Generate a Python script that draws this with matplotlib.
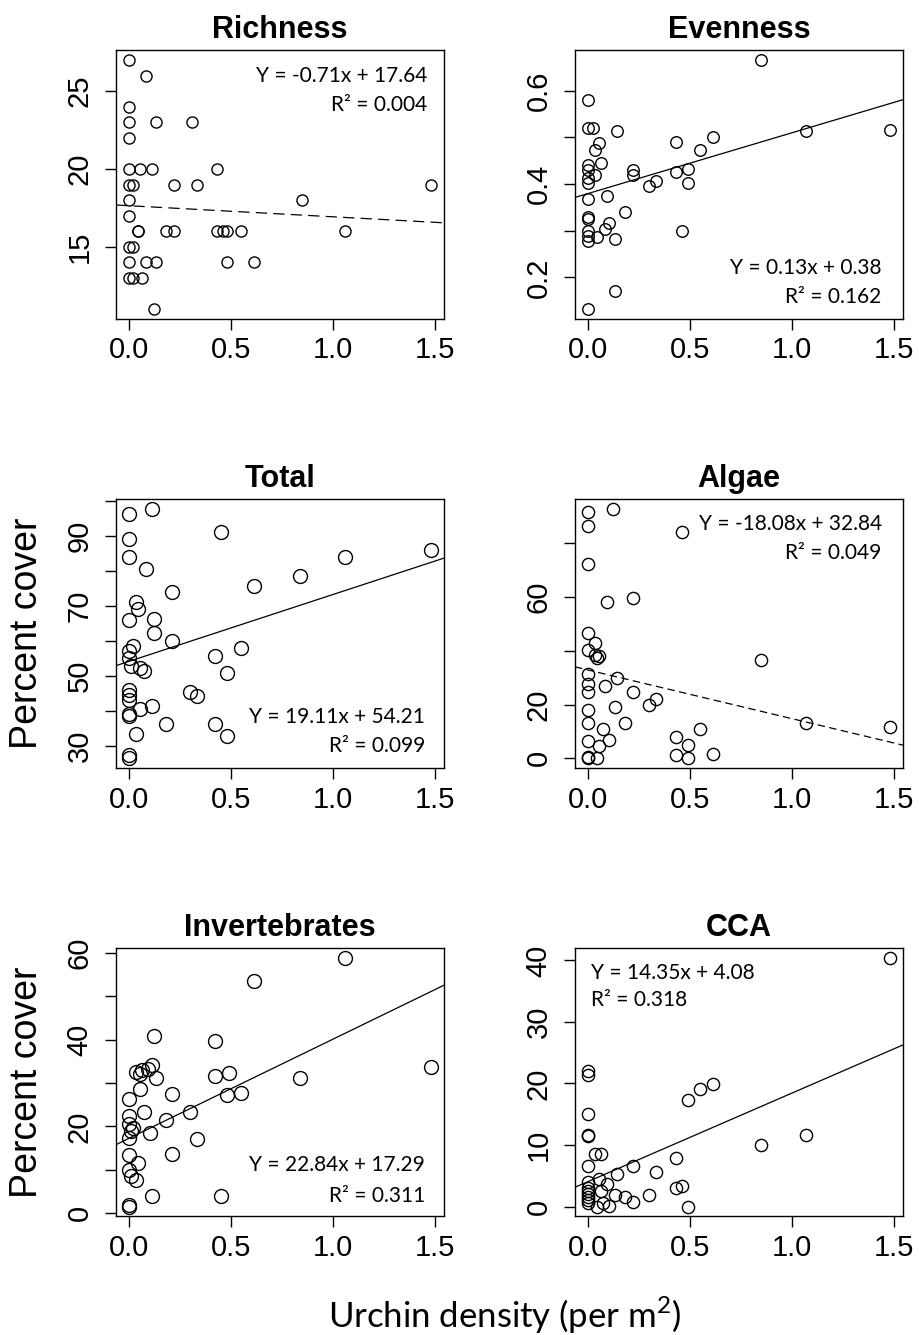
import matplotlib
matplotlib.use("Agg")
import matplotlib.pyplot as plt

# urchin density (per m2) against each response, one pair of lists per panel
rich_x = [0, 0.08, 0, 0, 0.13, 0.31, 0, 0, 0.05, 0.11, 0.43, 0, 0.02, 0.22, 0.33,
          1.48, 0, 0.85, 0, 0.04, 0.04, 0.18, 0.22, 0.43, 0.46, 0.48, 0.55, 1.06,
          0, 0.02, 0, 0.08, 0.13, 0.48, 0.61, 0, 0.02, 0.06, 0.12]
rich_y = [27, 26, 24, 23, 23, 23, 22, 20, 20, 20, 20, 19, 19, 19, 19,
          19, 18, 18, 17, 16, 16, 16, 16, 16, 16, 16, 16, 16,
          15, 15, 14, 14, 14, 14, 14, 13, 13, 13, 11]

even_x = [0.85, 0, 0, 0.02, 0.14, 0.05, 0.03, 0.43, 0.55, 0.61, 1.07, 1.48, 0, 0,
          0, 0, 0.06, 0.03, 0.22, 0.22, 0.30, 0.33, 0.43, 0.49, 0.49, 0.09, 0,
          0.18, 0, 0, 0.10, 0.08, 0, 0, 0.04, 0.13, 0.46, 0, 0.13, 0]
even_y = [0.666, 0.58, 0.52, 0.52, 0.513, 0.488, 0.473, 0.491, 0.474, 0.50, 0.513,
          0.517, 0.44, 0.43, 0.414, 0.403, 0.445, 0.42, 0.43, 0.42, 0.395, 0.407,
          0.425, 0.432, 0.402, 0.375, 0.368, 0.341, 0.33, 0.325, 0.317, 0.304,
          0.30, 0.289, 0.286, 0.283, 0.30, 0.279, 0.17, 0.132]

total_x = [0.11, 0, 0.45, 0, 0, 0.08, 1.06, 1.48, 0.84, 0.61, 0.21, 0.03, 0.04, 0,
           0.12, 0.12, 0.21, 0.02, 0, 0.55, 0.42, 0, 0.01, 0.05, 0.07, 0.48, 0,
           0.30, 0.33, 0, 0.11, 0.05, 0, 0.18, 0.42, 0.03, 0.48, 0, 0, 0, 0]
total_y = [97.9, 96.3, 91.2, 89.1, 84, 80.7, 84, 86.2, 78.5, 75.7, 74.1, 71.1, 69.2,
           66, 66.3, 62.4, 60, 58.6, 57.2, 58.1, 55.7, 55.2, 52.8, 52.4, 51.4, 50.7,
           46.1, 45.5, 44.2, 43.2, 41.3, 40.4, 38.4, 36.3, 36.3, 33.5, 32.7, 27.4,
           26.4, 44.5, 39]

algae_x = [0.12, 0, 0, 0.46, 0, 0.09, 0.22, 0, 0.03, 0, 0.03, 0.04, 0.05, 0.85, 0,
           0.14, 0, 0.08, 0, 0.22, 0.30, 0.33, 0, 0.13, 0, 0.18, 0.07, 0.55, 1.07,
           1.48, 0.43, 0.10, 0, 0.49, 0.05, 0.43, 0.49, 0.61, 0, 0, 0.04]
algae_y = [92.9, 91.5, 86.3, 84.1, 72.5, 58.1, 59.6, 46.5, 42.8, 40.3, 38.5, 37.5,
           38, 36.5, 31.3, 29.8, 27.5, 26.8, 24.8, 24.8, 19.8, 21.9, 17.8, 19, 13.1,
           13.1, 11, 11, 13.1, 11.6, 8.1, 6.9, 6.3, 5, 4.4, 1.3, 0.3, 1.5, 0.6, 0, 0.3]

inv_x = [1.06, 0.61, 0.12, 0.42, 1.48, 0.11, 0.09, 0.03, 0.05, 0.06, 0.13, 0.42,
         0.49, 0.84, 0.21, 0.48, 0.55, 0, 0.05, 0.07, 0.30, 0, 0.18, 0, 0.10, 0.01,
         0.02, 0, 0.33, 0.21, 0, 0.04, 0, 0.01, 0.03, 0.11, 0.45, 0, 0]
inv_y = [58.9, 53.5, 40.9, 39.8, 33.8, 34.2, 33.2, 32.5, 32, 33, 31.1, 31.7, 32.3,
         31.1, 27.4, 27.3, 27.6, 26.4, 28.6, 23.4, 23.4, 22.4, 21.5, 20.5, 18.5,
         18.9, 19.7, 17.4, 17, 13.7, 13.3, 11.6, 10, 8.5, 7.7, 3.9, 3.9, 1.9, 1.5]

cca_x = [1.48, 0, 0, 0, 0, 0, 0.49, 0.55, 0.61, 0.85, 1.07, 0.43, 0.03, 0.06, 0,
         0.22, 0.33, 0.14, 0.43, 0.46, 0.09, 0.30, 0.18, 0.22, 0.13, 0.49, 0.10,
         0.07, 0.04, 0, 0, 0, 0, 0, 0, 0, 0.05, 0.06]
cca_y = [40.4, 22.1, 21.3, 15.1, 11.7, 11.4, 17.3, 19.1, 19.9, 10, 11.6, 7.9, 8.5,
         8.5, 6.6, 6.6, 5.6, 5.3, 3.0, 3.3, 3.7, 1.8, 1.5, 0.8, 1.9, 0, 0.1, 0.5, 0,
         0.5, 1, 1.5, 2, 2.5, 3, 4, 4.5, 2.5]

# fitted lines: slope, intercept, r squared
fits = {
    "Richness": (-0.71, 17.64, 0.004),
    "Evenness": (0.13, 0.38, 0.162),
    "Total": (19.11, 54.21, 0.099),
    "Algae": (-18.08, 32.84, 0.049),
    "Invertebrates": (22.84, 17.29, 0.311),
    "CCA": (14.35, 4.08, 0.318),
}

x_ticks = [0.0, 0.5, 1.0, 1.5]
x_labels = ["0.0", "0.5", "1.0", "1.5"]

plt.rcParams["font.family"] = ["Liberation Sans", "DejaVu Sans"]
plt.rcParams["mathtext.fontset"] = "custom"
plt.rcParams["mathtext.rm"] = "Lato"
EQ_FONT = ["Lato", "DejaVu Sans"]


def r_limits(vals):
    lo, hi = min(vals), max(vals)
    pad = 0.04 * (hi - lo)
    return lo - pad, hi + pad


def panel(rect, x, y, title, yticks, ylabels, ms, dash=None, eq_pos=(0.948, 0.903, 0.796), eq_ha="right"):
    ax = fig.add_axes(rect)
    ax.plot(x, y, "o", mfc="none", mec="black", ms=ms, mew=1.0, zorder=3)
    m, b, r2 = fits[title]
    ls = "-" if dash is None else (0, dash)
    ax.axline((0, b), slope=m, color="black", lw=0.9, ls=ls, zorder=2)
    ax.set_xlim(-0.066, 1.546)
    ax.set_ylim(*r_limits(y))
    ax.set_xticks(x_ticks, x_labels)
    ax.set_yticks(yticks, ylabels, rotation=90, va="center")
    ax.tick_params(direction="out", length=8, width=1.0, labelsize=21)
    ax.tick_params(axis="x", pad=4.5)
    ax.tick_params(axis="y", pad=8)
    for s in ax.spines.values():
        s.set_linewidth(1.0)
    ax.set_title(title, fontsize=22, fontweight="bold", pad=8.5)
    ex, ey1, ey2 = eq_pos
    eq = f"Y = {m:.2f}x + {b:.2f}"
    ax.text(ex, ey1, eq, transform=ax.transAxes, ha=eq_ha, va="center",
            fontsize=15, family=EQ_FONT)
    ax.text(ex, ey2, f"R\u00b2 = {r2:.3f}", transform=ax.transAxes, ha=eq_ha,
            va="center", fontsize=15, family=EQ_FONT)
    return ax


fig = plt.figure(figsize=(9.19, 13.35), dpi=100)

L1, L2, W = 0.1262, 0.6257, 0.3569
rows = [(0.7610, 0.2015), (0.4245, 0.2019), (0.0888, 0.2011)]

panel([L1, rows[0][0], W, rows[0][1]], rich_x, rich_y, "Richness",
      [15, 20, 25], ["15", "20", "25"], 8.0, dash=(9, 5))
panel([L2, rows[0][0], W, rows[0][1]], even_x, even_y, "Evenness",
      [0.2, 0.3, 0.4, 0.5, 0.6], ["0.2", "", "0.4", "", "0.6"], 8.3,
      eq_pos=(0.935, 0.19, 0.082))
panel([L1, rows[1][0], W, rows[1][1]], total_x, total_y, "Total",
      [30, 40, 50, 60, 70, 80, 90, 100], ["30", "", "50", "", "70", "", "90", ""], 10.0,
      eq_pos=(0.942, 0.19, 0.084))
panel([L2, rows[1][0], W, rows[1][1]], algae_x, algae_y, "Algae",
      [0, 20, 40, 60, 80], ["0", "20", "", "60", ""], 8.8, dash=(6, 3.5),
      eq_pos=(0.935, 0.908, 0.80))
panel([L1, rows[2][0], W, rows[2][1]], inv_x, inv_y, "Invertebrates",
      [0, 10, 20, 30, 40, 50, 60], ["0", "", "20", "", "40", "", "60"], 10.0,
      eq_pos=(0.942, 0.19, 0.078))
panel([L2, rows[2][0], W, rows[2][1]], cca_x, cca_y, "CCA",
      [0, 10, 20, 30, 40], ["0", "10", "20", "30", "40"], 8.8,
      eq_pos=(0.048, 0.907, 0.805), eq_ha="left")

for r in rows[1:]:
    fig.text(0.029, r[0] + r[1] / 2, "Percent cover", rotation=90,
             ha="center", va="center", fontsize=27)

fig.text(0.5495, 0.0052, r"Urchin density (per m$^{2}$)", ha="center",
         va="baseline", fontsize=25, family=EQ_FONT)

fig.savefig("out.png", dpi=100)
